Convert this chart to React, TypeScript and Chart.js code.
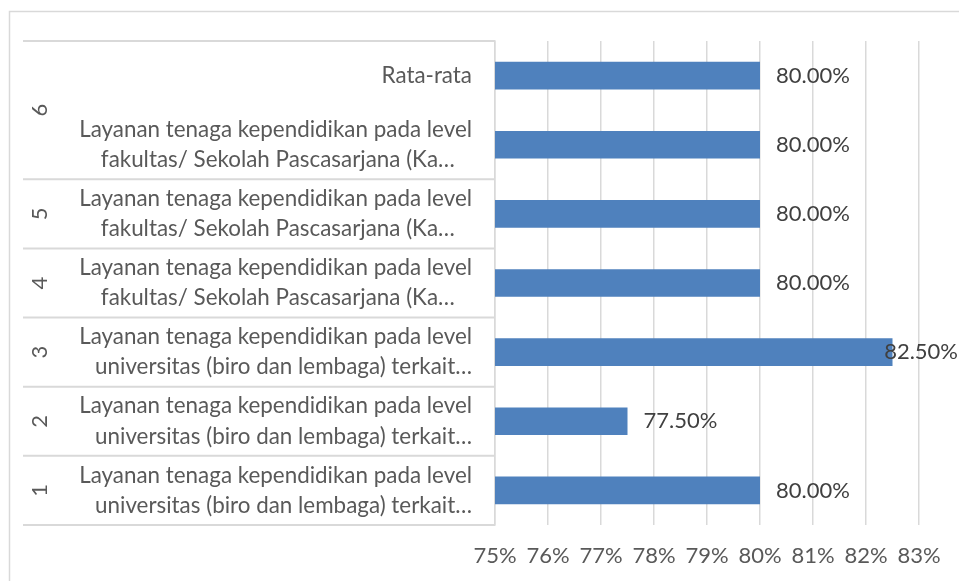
import React, { useEffect, useRef } from "react";
import { Chart, registerables } from "chart.js";

Chart.register(...registerables);

const LINE_UNIV = ["Layanan tenaga kependidikan pada level", "universitas (biro dan lembaga) terkait…"];
const LINE_FAK = ["Layanan tenaga kependidikan pada level", "fakultas/ Sekolah Pascasarjana (Ka…   "];

const categories: (string | string[])[] = [
  "Rata-rata",
  LINE_FAK,
  LINE_FAK,
  LINE_FAK,
  LINE_UNIV,
  LINE_UNIV,
  LINE_UNIV,
];
const groups = ["6", "6", "5", "4", "3", "2", "1"];
const values = [80, 80, 80, 80, 82.5, 77.5, 80];
const axisMin = 75;
const axisMax = 83;
const axisStep = 1;

const FONT_FAMILY = "Lato, 'Open Sans', sans-serif";
const FONT_SIZE = 22;
const CAT_FONT_SIZE = 22.4;
const TEXT_COLOR = "#595959";
const LABEL_COLOR = "#404040";
const GRID_COLOR = "#d9d9d9";
const BAR_COLOR = "#4f81bd";

const decorPlugin = {
  id: "decor",
  beforeDraw(chart: any) {
    const ctx = chart.ctx;
    ctx.save();
    ctx.strokeStyle = GRID_COLOR;
    ctx.lineWidth = 1.5;
    ctx.strokeRect(9.5, 11.5, 3000, 3000);
    ctx.restore();
  },
  afterDraw(chart: any) {
    const ctx = chart.ctx;
    const yScale = chart.scales.y;
    const area = chart.chartArea;
    const n = categories.length;
    const px = (i: number) => yScale.getPixelForValue(i);
    const boundary = (i: number) => (px(i) + px(i + 1)) / 2;
    ctx.save();
    ctx.strokeStyle = GRID_COLOR;
    ctx.lineWidth = 2;
    const lineLeft = 23;
    const ys: number[] = [area.top];
    for (let i = 0; i < n - 1; i++) {
      if (groups[i] !== groups[i + 1]) ys.push(boundary(i));
    }
    ys.push(area.bottom);
    ys.forEach((y) => {
      ctx.beginPath();
      ctx.moveTo(lineLeft, y);
      ctx.lineTo(area.left, y);
      ctx.stroke();
    });
    // group labels
    ctx.fillStyle = TEXT_COLOR;
    ctx.font = `${FONT_SIZE}px ${FONT_FAMILY}`;
    ctx.textAlign = "center";
    ctx.textBaseline = "middle";
    let start = 0;
    for (let i = 0; i < n; i++) {
      if (i === n - 1 || groups[i] !== groups[i + 1]) {
        const cy = (px(start) + px(i)) / 2;
        ctx.save();
        ctx.translate(40, cy);
        ctx.rotate(-Math.PI / 2);
        ctx.fillText(groups[i], 0, 0);
        ctx.restore();
        start = i + 1;
      }
    }
    // data labels
    const meta = chart.getDatasetMeta(0);
    ctx.fillStyle = LABEL_COLOR;
    ctx.textAlign = "left";
    meta.data.forEach((bar: any, i: number) => {
      const text = values[i].toFixed(2) + "%";
      const w = ctx.measureText(text).width;
      const x = Math.min(bar.x + 16, chart.width - w - 1);
      ctx.fillText(text, x, bar.y);
    });
    ctx.restore();
  },
};

export default function App() {
  const canvasRef = useRef<HTMLCanvasElement | null>(null);
  useEffect(() => {
    const canvas = canvasRef.current;
    if (!canvas) return;
    const chart = new Chart(canvas, {
      type: "bar",
      data: {
        labels: categories,
        datasets: [
          {
            data: values,
            backgroundColor: BAR_COLOR,
            borderWidth: 0,
            barPercentage: 0.4,
            categoryPercentage: 1,
          },
        ],
      },
      options: {
        indexAxis: "y",
        responsive: false,
        animation: false,
        devicePixelRatio: 1,
        layout: { padding: { top: 41, right: 40, bottom: 0, left: 0 } },
        plugins: {
          legend: { display: false },
          tooltip: { enabled: false },
          title: { display: false },
        },
        scales: {
          x: {
            min: axisMin,
            max: axisMax,
            ticks: {
              stepSize: axisStep,
              callback: (v: any) => `${v}%`,
              color: TEXT_COLOR,
              font: { family: FONT_FAMILY, size: FONT_SIZE },
              padding: 18,
              maxRotation: 0,
            },
            grid: { color: GRID_COLOR, lineWidth: 1.5, drawTicks: false },
            border: { display: false },
            afterFit: (s: any) => {
              s.height = 56;
              s.paddingLeft = 0;
              s.paddingRight = 0;
            },
          },
          y: {
            ticks: {
              color: TEXT_COLOR,
              font: { family: FONT_FAMILY, size: CAT_FONT_SIZE, lineHeight: 1.34 },
              padding: 23,
              autoSkip: false,
            },
            grid: { display: false, drawTicks: false },
            border: { display: true, color: GRID_COLOR, width: 1.5 },
            afterFit: (s: any) => {
              s.width = 495;
              s.paddingTop = 0;
              s.paddingBottom = 0;
            },
          },
        },
      },
      plugins: [decorPlugin],
    });
    return () => chart.destroy();
  }, []);
  return (
    <div style={{ position: "absolute", left: 0, top: 0, width: 959, height: 581, background: "#fff" }}>
      <canvas ref={canvasRef} width={959} height={581} style={{ display: "block" }} />
    </div>
  );
}
